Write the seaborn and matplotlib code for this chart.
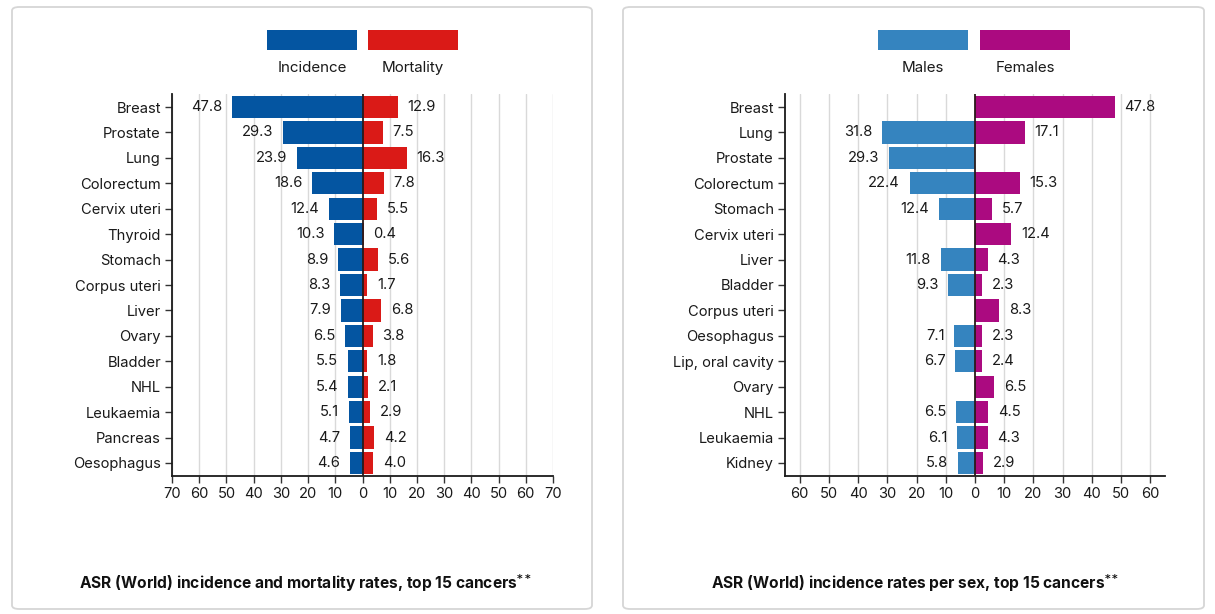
import numpy as np
import matplotlib
matplotlib.use("Agg")
import matplotlib.pyplot as plt
from matplotlib.patches import Rectangle, FancyBboxPatch
import seaborn as sns

sns.set_theme(style="white")
plt.rcParams['font.family'] = ['Inter', 'DejaVu Sans']

# left chart: incidence / mortality
cancers_a = ['Breast', 'Prostate', 'Lung', 'Colorectum', 'Cervix uteri', 'Thyroid',
             'Stomach', 'Corpus uteri', 'Liver', 'Ovary', 'Bladder', 'NHL',
             'Leukaemia', 'Pancreas', 'Oesophagus']
incidence = [47.8, 29.3, 23.9, 18.6, 12.4, 10.3, 8.9, 8.3, 7.9, 6.5, 5.5, 5.4, 5.1, 4.7, 4.6]
mortality = [12.9, 7.5, 16.3, 7.8, 5.5, 0.4, 5.6, 1.7, 6.8, 3.8, 1.8, 2.1, 2.9, 4.2, 4.0]

# right chart: males / females (None = not applicable)
cancers_b = ['Breast', 'Lung', 'Prostate', 'Colorectum', 'Stomach', 'Cervix uteri',
             'Liver', 'Bladder', 'Corpus uteri', 'Oesophagus', 'Lip, oral cavity',
             'Ovary', 'NHL', 'Leukaemia', 'Kidney']
males = [None, 31.8, 29.3, 22.4, 12.4, None, 11.8, 9.3, None, 7.1, 6.7, None, 6.5, 6.1, 5.8]
females = [47.8, 17.1, None, 15.3, 5.7, 12.4, 4.3, 2.3, 8.3, 2.3, 2.4, 6.5, 4.5, 4.3, 2.9]

titles = ['ASR (World) incidence and mortality rates, top 15 cancers',
          'ASR (World) incidence rates per sex, top 15 cancers']
legend_names = [('Incidence', 'Mortality'), ('Males', 'Females')]
colors = [('#0455a1', '#da1a17'), ('#3584bf', '#ab0a80')]
lims = [70, 65]
tick_max = [70, 60]

W, H = 1215, 614
fig = plt.figure(figsize=(W / 100, H / 100), dpi=100)

# panel frames
for x0, x1 in [(12, 592), (623, 1204)]:
    fig.patches.append(FancyBboxPatch((x0 / W, 5 / H), (x1 - x0) / W, 602 / H,
                                      boxstyle="round,pad=0,rounding_size=0.006",
                                      transform=fig.transFigure, fill=False,
                                      edgecolor='#d6d6d6', linewidth=1.3))

axes_px = [(172, 553), (785, 1165)]
legend_px = [((267, 357), (368, 458)), ((878, 968), (980, 1070))]
title_x = [305, 915]

datasets = [(cancers_a, incidence, mortality), (cancers_b, males, females)]

for i, (cats, left_vals, right_vals) in enumerate(datasets):
    x0, x1 = axes_px[i]
    ax = fig.add_axes([x0 / W, 1 - 475.7 / H, (x1 - x0) / W, 381.4 / H])
    lv = np.array([np.nan if v is None else v for v in left_vals], dtype=float)
    rv = np.array([np.nan if v is None else v for v in right_vals], dtype=float)

    # gridlines
    for g in range(-tick_max[i], tick_max[i] + 1, 10):
        if g != 0:
            ax.axvline(g, color='#d9d9d9', lw=1.0, zorder=0)

    sns.barplot(x=-np.nan_to_num(lv), y=cats, color=colors[i][0], orient='h',
                width=0.88, linewidth=0, saturation=1, ax=ax, zorder=2)
    sns.barplot(x=np.nan_to_num(rv), y=cats, color=colors[i][1], orient='h',
                width=0.88, linewidth=0, saturation=1, ax=ax, zorder=2)

    lab_l = ['' if np.isnan(v) else f'{v:.1f}' for v in lv]
    lab_r = ['' if np.isnan(v) else f'{v:.1f}' for v in rv]
    ax.bar_label(ax.containers[0], labels=lab_l, padding=7, fontsize=10.6, color='#1a1a1a')
    ax.bar_label(ax.containers[1], labels=lab_r, padding=7, fontsize=10.6, color='#1a1a1a')

    ax.axvline(0, color='#2a1a1a', lw=1.3, zorder=3)

    ax.set_xlim(-lims[i], lims[i])
    ax.set_ylim(14.5, -0.5)
    ticks = np.arange(-tick_max[i], tick_max[i] + 1, 10)
    ax.set_xticks(ticks)
    ax.set_xticklabels([str(abs(t)) for t in ticks])
    ax.set_xlabel('')
    ax.set_ylabel('')
    ax.tick_params(axis='both', which='both', length=5, width=1.0, color='#333333',
                   labelsize=10.6, labelcolor='#1a1a1a', bottom=True, left=True, pad=3)
    for s in ['top', 'right']:
        ax.spines[s].set_visible(False)
    for s in ['left', 'bottom']:
        ax.spines[s].set_color('#1a1a1a')
        ax.spines[s].set_linewidth(1.3)
    ax.patch.set_alpha(0)

    # legend: colour blocks with names underneath
    for (lx0, lx1), col, name in zip(legend_px[i], colors[i], legend_names[i]):
        fig.patches.append(Rectangle((lx0 / W, 1 - 50 / H), (lx1 - lx0) / W, 20 / H,
                                     transform=fig.transFigure, color=col, lw=0))
        fig.text((lx0 + lx1) / 2 / W, 1 - 68 / H, name, ha='center', va='center',
                 fontsize=10.9, color='#1a1a1a')

    fig.text(title_x[i] / W, 1 - 583 / H, titles[i] + r'$^{\mathbf{**}}$',
             ha='center', va='center', fontsize=11.2, fontweight='bold', color='#111111')

fig.savefig('out.png', dpi=100)
